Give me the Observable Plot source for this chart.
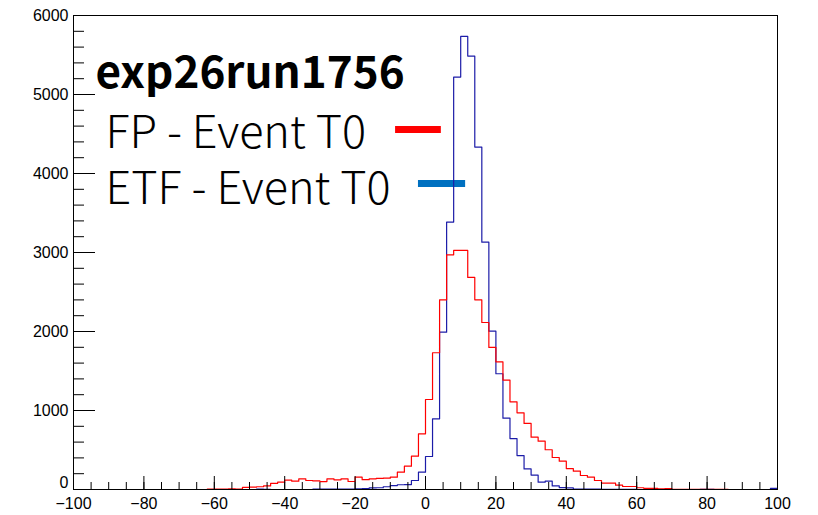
<!DOCTYPE html>
<html>
<head>
<meta charset="utf-8">
<script src="https://cdn.jsdelivr.net/npm/d3@7"></script>
<script src="https://cdn.jsdelivr.net/npm/@observablehq/plot@0.6"></script>
<style>
  html, body { margin: 0; padding: 0; background: #fff; }
  #chart { width: 818px; height: 515px; }
</style>
</head>
<body>
<div id="chart"></div>
<script>
// Histogram binning: 100 bins of width 2 from -100 to 100
const binLow = -100;
const binWidth = 2;

// FP - Event T0 counts per bin (bin i covers [-100 + 2i, -98 + 2i))
const fpCounts = [
  0, 0, 0, 0, 0, 0, 0, 0, 0, 0,            // -100 .. -82
  0, 0, 0, 0, 0, 0, 0, 0, 0, 4,            // -80 .. -62
  4, 5, 9, 6, 28, 30, 35, 45, 78, 93,      // -60 .. -42
  118, 105, 135, 114, 108, 100, 135, 122, 135, 101, // -40 .. -22
  156, 125, 135, 140, 143, 156, 219, 295, 422, 705, // -20 .. -2
  1139, 1731, 2401, 2970, 3026, 3026, 2685, 2401, 2114, 1798, // 0 .. 18
  1616, 1385, 1110, 970, 836, 662, 612, 503, 405, 358, // 20 .. 38
  265, 232, 177, 156, 114, 80, 80, 55, 38, 38,         // 40 .. 58
  22, 15, 15, 8, 10, 3, 2, 2, 2, 2,                    // 60 .. 78
  2, 2, 1, 0, 0, 0, 0, 0, 0, 0                         // 80 .. 98
];

// ETF - Event T0 counts per bin
const etfCounts = [
  0, 0, 0, 0, 0, 0, 0, 0, 0, 0,            // -100 .. -82
  0, 0, 0, 0, 0, 0, 0, 0, 0, 0,            // -80 .. -62
  0, 0, 0, 0, 0, 0, 4, 3, 0, 0,            // -60 .. -42
  0, 0, 0, 0, 4, 4, 5, 4, 5, 4,            // -40 .. -22
  9, 12, 20, 22, 35, 50, 60, 62, 114, 219, // -20 .. -2
  418, 895, 1991, 3385, 5220, 5735, 5486, 4334, 3131, 2004, // 0 .. 18
  1465, 903, 645, 430, 260, 182, 93, 105, 45, 25,      // 20 .. 38
  20, 6, 5, 4, 4, 2, 1, 2, 1, 1,                       // 40 .. 58
  0, 0, 1, 0, 3, 0, 0, 0, 0, 2,                        // 60 .. 78
  2, 0, 0, 0, 0, 0, 0, 0, 0, 15                        // 80 .. 98
];

const titleText = "exp26run1756";
const seriesNames = ["FP - Event T0", "ETF - Event T0"];
const seriesColors = ["#ff0000", "#1c1ca8"];
const swatchColors = ["#ff0000", "#0070c0"];

// Axis ticks: labelled majors and finer minors
const xMajorTicks = d3.range(-100, 101, 20);
const xMinorTicks = d3.range(-100, 101, 5);
const yMajorTicks = d3.range(0, 6001, 1000);
const yMinorTicks = d3.range(0, 6001, 200);

// Turn bin counts into step-outline vertices (last bin closed at the upper edge)
function outline(counts) {
  const pts = counts.map((c, i) => ({x: binLow + i * binWidth, y: c}));
  pts.push({x: binLow + counts.length * binWidth, y: counts[counts.length - 1]});
  return pts;
}

const W = 818, H = 515;
const mL = 73, mR = 41, mT = 15, mB = 26;
const plotW = W - mL - mR, plotH = H - mT - mB;

const legendFont = "'Noto Sans CJK SC', 'Noto Sans', sans-serif";

const chart = Plot.plot({
  width: W,
  height: H,
  marginLeft: mL,
  marginRight: mR,
  marginTop: mT,
  marginBottom: mB,
  x: {domain: [-100, 100], label: null},
  y: {domain: [0, 6000], label: null},
  style: {
    fontFamily: "'Liberation Sans', Arial, Helvetica, sans-serif",
    fontSize: "16px",
    color: "#000",
    background: "#fff"
  },
  marks: [
    // legend swatches
    Plot.ruleY([{y: 4557, x1: -8.5, x2: 4.5}], {y: "y", x1: "x1", x2: "x2", stroke: swatchColors[0], strokeWidth: 7}),
    Plot.ruleY([{y: 3873, x1: -2, x2: 11.4}], {y: "y", x1: "x1", x2: "x2", stroke: swatchColors[1], strokeWidth: 7}),

    // histograms
    Plot.line(outline(etfCounts), {x: "x", y: "y", curve: "step-after", stroke: seriesColors[1], strokeWidth: 1.2}),
    Plot.line(outline(fpCounts), {x: "x", y: "y", curve: "step-after", stroke: seriesColors[0], strokeWidth: 1.2}),

    // frame and inward ticks
    Plot.frame({stroke: "#000", strokeWidth: 1}),
    Plot.tickX(xMajorTicks, {x: d => d, insetTop: plotH - 13, stroke: "#000"}),
    Plot.tickX(xMinorTicks, {x: d => d, insetTop: plotH - 7, stroke: "#000"}),
    Plot.tickY(yMajorTicks, {y: d => d, insetRight: plotW - 22, stroke: "#000"}),
    Plot.tickY(yMinorTicks, {y: d => d, insetRight: plotW - 11, stroke: "#000"}),

    // tick labels; the zero on the y axis sits a little higher to clear the x labels
    Plot.axisX({ticks: xMajorTicks, tickSize: 0, tickPadding: 8, label: null}),
    Plot.axisY({ticks: yMajorTicks.filter(d => d !== 0), tickSize: 0, tickPadding: 5, tickFormat: d => String(d), label: null}),
    Plot.axisY({ticks: [0], tickSize: 0, tickPadding: 5, dy: -7, tickFormat: d => String(d), label: null}),

    // legend text
    Plot.text([titleText], {
      text: d => d, frameAnchor: "top-left", dx: 22, dy: 72,
      lineAnchor: "bottom", textAnchor: "start",
      fontSize: 44, fontWeight: 700, fontFamily: legendFont, fill: "#000"
    }),
    Plot.text([seriesNames[0]], {
      text: d => d, frameAnchor: "top-left", dx: 32, dy: 132,
      lineAnchor: "bottom", textAnchor: "start",
      fontSize: 45, fontWeight: 300, fontFamily: legendFont, fill: "#000"
    }),
    Plot.text([seriesNames[1]], {
      text: d => d, frameAnchor: "top-left", dx: 32, dy: 188,
      lineAnchor: "bottom", textAnchor: "start",
      fontSize: 45, fontWeight: 300, fontFamily: legendFont, fill: "#000"
    })
  ]
});

document.getElementById("chart").appendChild(chart);
</script>
</body>
</html>
